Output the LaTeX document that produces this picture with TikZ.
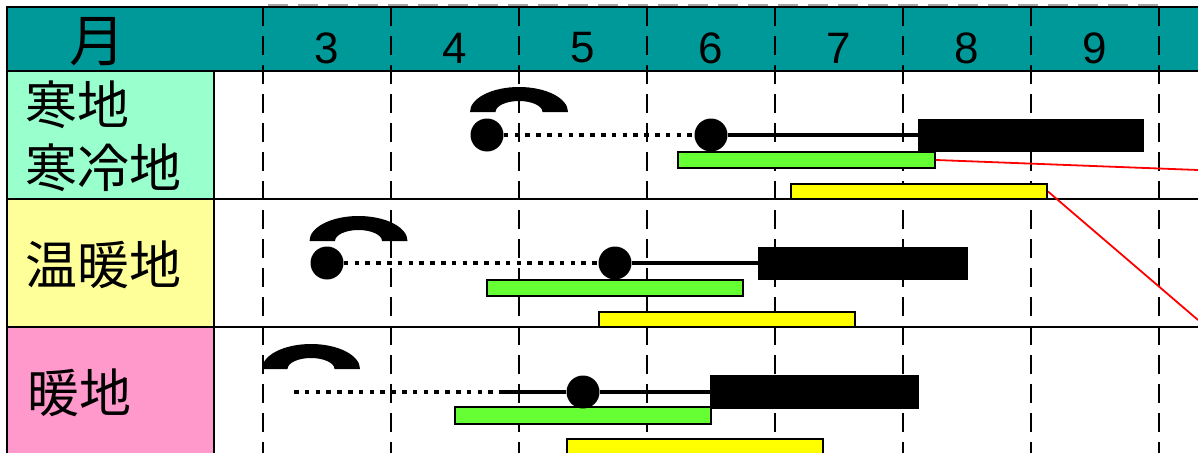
\documentclass[tikz,border=0pt]{standalone}
\usepackage{fontspec}
\setmainfont{Liberation Sans}
\newfontfamily\jpfont{Noto Sans CJK JP}
\definecolor{headteal}{HTML}{009999}
\definecolor{mintbg}{HTML}{99FFCC}
\definecolor{lyelbg}{HTML}{FFFF99}
\definecolor{pinkbg}{HTML}{FF99CC}
\definecolor{barGreen}{HTML}{66FF33}
\definecolor{barYellow}{HTML}{FFFF00}
\begin{document}
\begin{tikzpicture}[x=1pt,y=-1pt,
  gridline/.style={line width=2.8pt, black},
  vdash/.style={line width=2.8pt, black, dash pattern=on 19pt off 10pt},
  topdash/.style={line width=1.5pt, black!35, dash pattern=on 20pt off 10pt},
  colorbar/.style={draw=black, line width=2pt, inner sep=0pt, anchor=center, rectangle},
  blackbar/.style={fill=black, draw=none, inner sep=0pt, anchor=center, rectangle},
  blob/.style={circle, fill=black, draw=none, inner sep=0pt, minimum size=33pt},
  dotline/.style={line width=4.6pt, black, dash pattern=on 4.6pt off 6.2pt},
  solidline/.style={line width=4.4pt, black},
  redline/.style={line width=1.8pt, red},
  label/.style={inner sep=0pt, anchor=west, font=\jpfont\fontsize{52}{60}\selectfont},
  month/.style={inner sep=0pt, font=\fontsize{44}{50}\selectfont}
]
\useasboundingbox (0,0) rectangle (1198,452);
\begin{scope}
\clip (0,0) rectangle (1198,452);
\fill[white] (0,0) rectangle (1198,452);
% backgrounds
\fill[headteal] (7,7) rectangle (1210,71);
\fill[mintbg] (7,71) rectangle (214,199);
\fill[lyelbg] (7,199) rectangle (214,327);
\fill[pinkbg] (7,327) rectangle (214,470);
% faint dashes above the table
\draw[topdash] (268,5) -- (1160,5);
% dashed month lines
\foreach \k in {0,...,7} {
  \draw[vdash] (263+128*\k,7) -- (263+128*\k,470);
}
% grid
\draw[gridline] (7,470) -- (7,7) -- (1210,7);
\draw[gridline] (7,71) -- (1210,71);
\draw[gridline] (7,199) -- (1210,199);
\draw[gridline] (7,327) -- (1210,327);
\draw[gridline] (214,71) -- (214,470);
% header texts
\node[inner sep=0pt, font=\jpfont\fontsize{56}{60}\selectfont] (hmonth) at (97,42) {月};
\node[month] (m3) at (327,48) {3};
\node[month] (m4) at (455,48) {4};
\node[month] (m5) at (583,48) {5};
\node[month] (m6) at (711,48) {6};
\node[month] (m7) at (839,48) {7};
\node[month] (m8) at (967,48) {8};
\node[month] (m9) at (1095,48) {9};
% row labels
\node[label] (l1a) at (25,105) {寒地};
\node[label] (l1b) at (25,168) {寒冷地};
\node[label] (l2) at (25,265) {温暖地};
\node[label] (l3) at (27,393) {暖地};
% green and yellow bars
\node[colorbar, fill=barGreen, minimum width=257pt, minimum height=16pt] (g1) at (806.5,160) {};
\node[colorbar, fill=barYellow, minimum width=256pt, minimum height=15pt] (y1) at (919,191.5) {};
\node[colorbar, fill=barGreen, minimum width=256pt, minimum height=16pt] (g2) at (615,288) {};
\node[colorbar, fill=barYellow, minimum width=256pt, minimum height=15pt] (y2) at (727,319.5) {};
\node[colorbar, fill=barGreen, minimum width=256pt, minimum height=17pt] (g3) at (583,415.5) {};
\node[colorbar, fill=barYellow, minimum width=256pt, minimum height=15pt] (y3) at (695,446.5) {};
% black bars
\node[blackbar, minimum width=226pt, minimum height=33pt] (b1) at (1031,135) {};
\node[blackbar, minimum width=210pt, minimum height=33pt] (b2) at (863,263) {};
\node[blackbar, minimum width=209pt, minimum height=34pt] (b3) at (814.5,392) {};
% dots
\node[blob] (c1a) at (487,135) {};
\node[blob] (c1b) at (711,135) {};
\node[blob] (c2a) at (327,263) {};
\node[blob] (c2b) at (615,263) {};
\node[blob] (c3) at (583,392) {};
\coordinate (s3) at (294,392);
\coordinate (t3) at (502,392);
% connecting lines
\draw[dotline] (c1a) -- (c1b);
\draw[solidline] (c1b) -- (b1.west);
\draw[dotline] (c2a) -- (c2b);
\draw[solidline] (c2b) -- (b2.west);
\draw[dotline] (s3) -- (t3);
\draw[solidline] (t3) -- (c3);
\draw[solidline] (c3) -- (b3.west);
% arches
\foreach \cx/\by in {519/112, 358.5/241, 311/369} {
  \fill[black] (\cx-49,\by) arc[start angle=180, end angle=0, x radius=49pt, y radius=25pt]
    -- (\cx+23.5,\by) arc[start angle=0, end angle=180, x radius=23.5pt, y radius=11pt] -- cycle;
}
% red lines
\coordinate (r1) at (1198,170);
\coordinate (r2) at (1198,320);
\draw[redline] (g1.east) -- (r1);
\draw[redline] (y1.east) -- (r2);
\end{scope}
\end{tikzpicture}
\end{document}
